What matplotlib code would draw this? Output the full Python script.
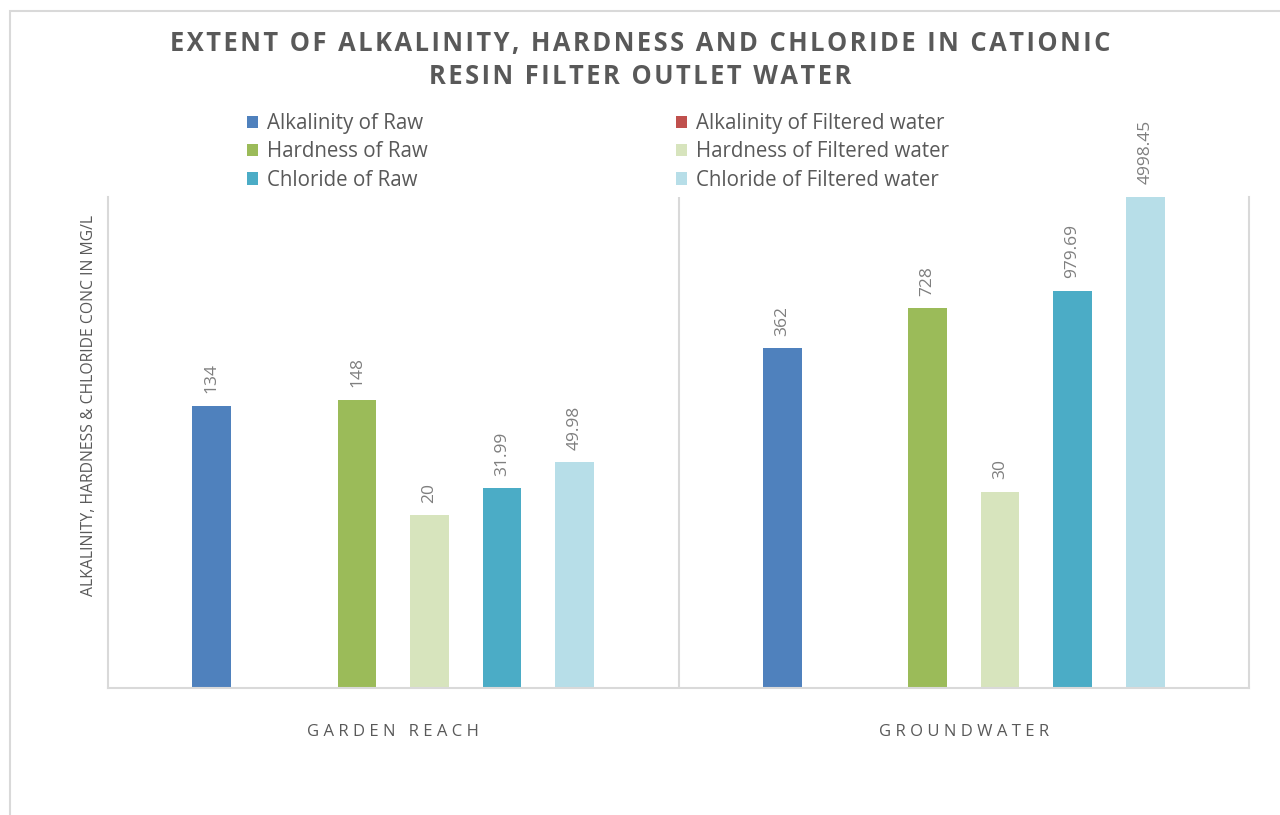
import matplotlib
matplotlib.use("Agg")
import matplotlib.pyplot as plt
import numpy as np
from matplotlib.patches import Rectangle

plt.rcParams['font.family'] = ['Open Sans', 'DejaVu Sans']

categories = ["GARDEN REACH", "GROUNDWATER"]
series_names = ["Alkalinity of Raw", "Alkalinity of Filtered water",
                "Hardness of Raw", "Hardness of Filtered water",
                "Chloride of Raw", "Chloride of Filtered water"]
alk_raw = [134, 362]
alk_filt = [0, 0]
hard_raw = [148, 728]
hard_filt = [20, 30]
chl_raw = [31.99, 979.69]
chl_filt = [49.98, 4998.45]
label_texts = [["134", "362"], [None, None], ["148", "728"], ["20", "30"],
               ["31.99", "979.69"], ["49.98", "4998.45"]]
colors = ["#4F81BD", "#C0504D", "#9BBB59", "#D7E4BD", "#4BACC6", "#B7DEE8"]
values = [alk_raw, alk_filt, hard_raw, hard_filt, chl_raw, chl_filt]

HAIR = "\u200a"
THIN = "\u2009"
def spaced(s, sep=HAIR):
    return sep.join(s)

fig = plt.figure(figsize=(12.8, 8.15), dpi=100)
fig.patches.append(Rectangle((10/1280, -0.01), 1.0, 1 - 11/815 + 0.01, transform=fig.transFigure,
                             fill=False, edgecolor="#D9D9D9", linewidth=1.5))
ax = fig.add_axes([108/1280, (815-688)/815, 1141/1280, 491/815])

x = np.arange(len(categories))
step = 0.1272
width = 0.068
handles = []
for i, (vals, col, name) in enumerate(zip(values, colors, series_names)):
    pos = x + (i - 2.5) * step
    plot_vals = [v if v > 0 else np.nan for v in vals]
    b = ax.bar(pos, plot_vals, width, color=col, label=name, bottom=0)
    handles.append(b)
    for p, v, t in zip(pos, vals, label_texts[i]):
        if t is None or v <= 0:
            continue
        ax.annotate(t, (p, v), xytext=(0, 9), textcoords="offset points",
                    rotation=90, ha="center", va="bottom", fontsize=12.5,
                    color="#7F7F7F", annotation_clip=False)

ax.set_yscale("log")
ax.set_ylim(1, 4998.45)
ax.set_xlim(-0.5, 1.5)
ax.spines["top"].set_visible(False)
for s in ["left", "right", "bottom"]:
    ax.spines[s].set_color("#D9D9D9")
    ax.spines[s].set_linewidth(1.5)
ax.axvline(0.5, color="#D9D9D9", lw=1.5)
ax.set_yticks([])
ax.yaxis.set_minor_locator(matplotlib.ticker.NullLocator())
ax.set_xticks(x)
ax.set_xticklabels([spaced(c, THIN + HAIR) for c in categories], fontsize=12, color="#595959")
ax.tick_params(axis="x", length=0, pad=26)

ax.set_ylabel("ALKALINITY, HARDNESS & CHLORIDE CONC IN MG/L", fontsize=11.3, color="#595959")
ax.yaxis.set_label_coords(-11/1141, (688-405)/491)

fig.text(0.5, 1 - 44/815, spaced("EXTENT OF ALKALINITY, HARDNESS AND CHLORIDE IN CATIONIC", HAIR),
         ha="center", va="center", fontsize=18.4, fontweight="bold", color="#595959")
fig.text(0.5, 1 - 77/815, spaced("RESIN FILTER OUTLET WATER", HAIR),
         ha="center", va="center", fontsize=18.4, fontweight="bold", color="#595959")

legend_cols = [[0, 2, 4], [1, 3, 5]]
legend_x = [247, 676]
for cols, lx in zip(legend_cols, legend_x):
    leg = fig.legend([handles[k] for k in cols], [series_names[k] for k in cols], ncol=1,
                     loc="upper left", bbox_to_anchor=(lx/1280, 1 - 113/815), frameon=False,
                     fontsize=14.8, handlelength=0.55, handleheight=0.55, handletextpad=0.42,
                     labelspacing=0.36, borderaxespad=0, borderpad=0)
    for t in leg.get_texts():
        t.set_color("#595959")

fig.savefig("out.png", dpi=100)
